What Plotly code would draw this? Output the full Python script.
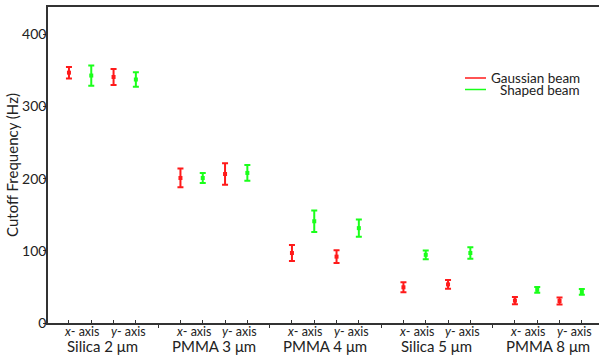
import plotly.graph_objects as go

groups = ["Silica 2 μm", "PMMA 3 μm", "PMMA 4 μm", "Silica 5 μm", "PMMA 8 μm"]
axis_labels = ["<i>x</i>- axis", "<i>y</i>- axis"]
y_ticks = [0, 100, 200, 300, 400]

# Gaussian beam: [x-axis, y-axis] per group
gauss_x = [347, 201, 97, 49.5, 31]
gauss_x_err = [8, 13, 11, 7, 5]
gauss_y = [341, 206.5, 92, 53.5, 30.5]
gauss_y_err = [11, 15, 9, 6, 5]

# Shaped beam
shaped_x = [343, 201, 141, 94.5, 46]
shaped_x_err = [14, 7, 15, 6, 4]
shaped_y = [337.5, 208, 131.5, 97, 43]
shaped_y_err = [10, 11, 12, 8, 4]

RED = "#ff1a1a"
GREEN = "#1aff1a"

def pos(g, k):
    return g * 5 + k

fig = go.Figure()

gx, gv, ge = [], [], []
sx, sv, se = [], [], []
for g in range(len(groups)):
    gx += [pos(g, 0), pos(g, 2)]
    gv += [gauss_x[g], gauss_y[g]]
    ge += [gauss_x_err[g], gauss_y_err[g]]
    sx += [pos(g, 1), pos(g, 3)]
    sv += [shaped_x[g], shaped_y[g]]
    se += [shaped_x_err[g], shaped_y_err[g]]

fig.add_trace(go.Scatter(
    x=gx, y=gv, mode="markers", name="Gaussian beam", showlegend=False,
    marker=dict(symbol="square", size=4, color=RED),
    error_y=dict(type="data", array=ge, color=RED, thickness=2, width=3),
))
fig.add_trace(go.Scatter(
    x=sx, y=sv, mode="markers", name="Shaped beam", showlegend=False,
    marker=dict(symbol="square", size=4, color=GREEN),
    error_y=dict(type="data", array=se, color=GREEN, thickness=2, width=3),
))

FONT = "Lato, 'Noto Sans', sans-serif"
TXT = "#222222"

annotations = []
for g, name in enumerate(groups):
    annotations.append(dict(x=pos(g, 1.5), y=0, xref="x", yref="paper",
                            text=name, showarrow=False, yanchor="middle", borderpad=0,
                            yshift=-22.5, font=dict(size=15, color=TXT, family=FONT)))
    for i, lab in enumerate(axis_labels):
        annotations.append(dict(x=pos(g, 0.6 + 2.05 * i), y=0, xref="x", yref="paper",
                                text=lab, showarrow=False, yanchor="middle", borderpad=0,
                                yshift=-8.5, font=dict(size=12.5, color=TXT, family=FONT)))

# legend
legend_items = [("Gaussian beam", RED), ("Shaped beam", GREEN)]
shapes = []
for i, (lab, col) in enumerate(legend_items):
    ypx = 78 + i * 11.5
    yp = 1 - (ypx - 7) / 316
    shapes.append(dict(type="line", xref="paper", yref="paper",
                       x0=(465 - 48) / 551, x1=(486 - 48) / 551, y0=yp, y1=yp,
                       line=dict(color=col, width=1.5)))
    annotations.append(dict(x=(581 - 48) / 551, y=yp, xref="paper", yref="paper",
                            text=lab, showarrow=False, xanchor="right", yanchor="middle",
                            borderpad=0,
                            font=dict(size=13.5, color=TXT, family=FONT)))

fig.update_layout(
    width=599, height=356,
    margin=dict(l=48, r=0, t=7, b=33),
    plot_bgcolor="white", paper_bgcolor="white",
    font=dict(family=FONT, color=TXT),
    annotations=annotations, shapes=shapes,
    showlegend=False,
    xaxis=dict(range=[-0.94, 23.77], showgrid=False, zeroline=False,
               showline=True, linecolor="#333333", linewidth=1.5, mirror=True,
               tickmode="array", tickvals=list(range(0, 24)),
               ticktext=[""] * 24, ticks="inside", ticklen=3, tickcolor="#333333",
               minor=dict(tickvals=[4, 9, 14, 19], ticks="outside", ticklen=3,
                          tickcolor="#333333")),
    yaxis=dict(range=[0, 438], showgrid=False, zeroline=False,
               showline=True, linecolor="#333333", linewidth=1.5,
               tickmode="array", tickvals=y_ticks, ticks="",
               ticklabelstandoff=-3,
               minor=dict(tickvals=y_ticks, ticks="outside", ticklen=3,
                          tickcolor="#333333"),
               tickfont=dict(size=14, color=TXT, family=FONT),
               title=dict(text="Cutoff Frequency (Hz)", standoff=0,
                          font=dict(size=15, color=TXT, family=FONT))),
)

fig.write_html("out.html", config={"displayModeBar": False},
               post_script="document.body.style.margin='0';document.body.style.padding='0';")
